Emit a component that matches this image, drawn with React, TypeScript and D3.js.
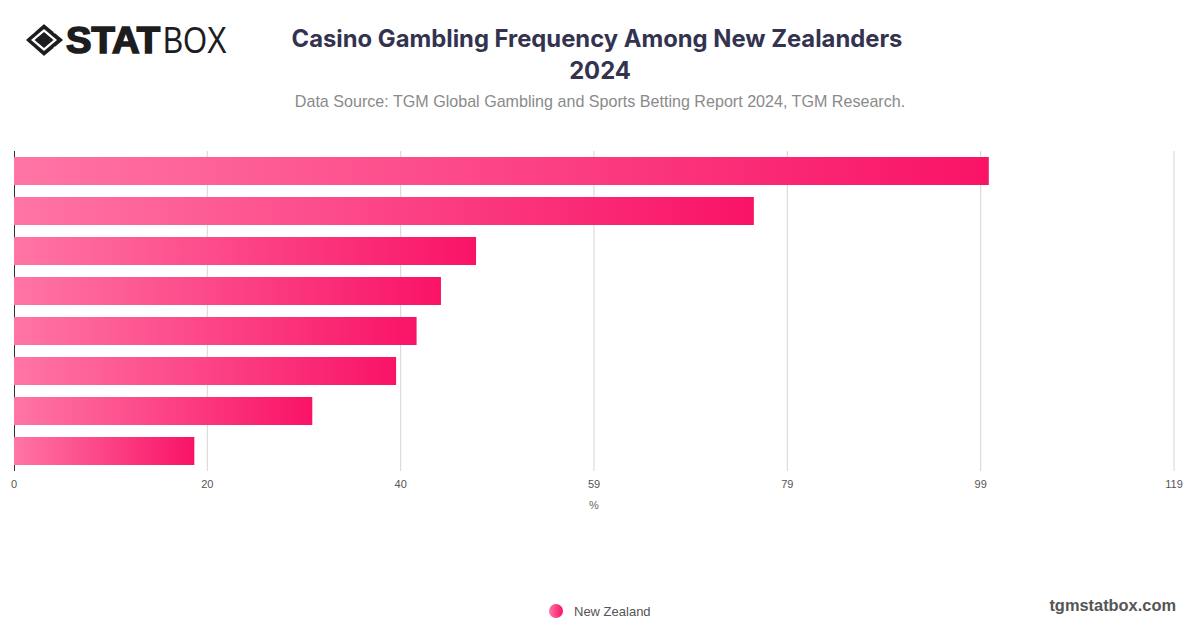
import React from 'react';
import * as d3 from 'd3';

const width = 1200;
const height = 628;

// the chart shows no category labels, bars are only told apart by rank
const barRanks = [1, 2, 3, 4, 5, 6, 7, 8];
const barValues = [100, 75.9, 47.4, 43.8, 41.3, 39.2, 30.6, 18.5];
const axisMax = 119;
const tickValues = [0, 19.83, 39.67, 59.5, 79.33, 99.17, 119];
const tickLabels = ['0', '20', '40', '59', '79', '99', '119'];
const seriesName = 'New Zealand';

const x = d3.scaleLinear().domain([0, axisMax]).range([14, 1174]);
const y = d3.scaleBand<number>()
  .domain(barRanks)
  .range([151, 471])
  .paddingInner(0.3)
  .paddingOuter(0.15);

const sans = '"Liberation Sans", Arial, sans-serif';

const Logo = () => (
  <g>
    <path d="M44 25 L62 40 L44 55 L27 40 Z" fill="#1d1d1f" stroke="#1d1d1f" strokeWidth="1.5" strokeLinejoin="round" />
    <path d="M44 29 L57 40 L44 51 L31 40 Z" fill="#fff" />
    <path d="M44 32 L53.5 40 L44 48 L34.5 40 Z" fill="#1d1d1f" />
    <path d="M34 33 L29 29 M54 33 L59 29 M34 47 L29 51 M54 47 L59 51" stroke="#fff" strokeWidth="1.6" />
    <text x={66} y={53} fontFamily={sans} fontWeight={700} fontSize={36} fill="#1d1d1f"
      stroke="#1d1d1f" strokeWidth={1.6} textLength={94} lengthAdjust="spacingAndGlyphs">STAT</text>
    <text x={163} y={53} fontFamily={sans} fontWeight={400} fontSize={36} fill="#1d1d1f"
      textLength={64} lengthAdjust="spacingAndGlyphs">BOX</text>
  </g>
);

export default function App() {
  return (
    <svg width={width} height={height} viewBox={`0 0 ${width} ${height}`}
      style={{ position: 'fixed', left: 0, top: 0, display: 'block', background: '#fff' }}>
      <defs>
        <linearGradient id="barFill" x1="0" x2="1" y1="0" y2="0">
          <stop offset="0%" stopColor="#ff75a5" />
          <stop offset="100%" stopColor="#f91367" />
        </linearGradient>
      </defs>

      <Logo />

      <text x={597} y={47} textAnchor="middle" fontFamily="Inter, sans-serif" fontWeight={700} fontSize={23.8} fill="#333350">
        Casino Gambling Frequency Among New Zealanders
      </text>
      <text x={600} y={79} textAnchor="middle" fontFamily="Inter, sans-serif" fontWeight={700} fontSize={23.8} fill="#333350">
        2024
      </text>
      <text x={600} y={107} textAnchor="middle" fontFamily={sans} fontSize={16.1} fill="#8a8a8a">
        Data Source: TGM Global Gambling and Sports Betting Report 2024, TGM Research.
      </text>

      {tickValues.map((t, i) => (
        <g key={i}>
          {i > 0 && <line x1={x(t)} x2={x(t)} y1={151} y2={471} stroke="#d6d6d6" strokeWidth={1} />}
          <text x={x(t)} y={488} textAnchor="middle" fontFamily={sans} fontSize={11} fill="#555">
            {tickLabels[i]}
          </text>
        </g>
      ))}
      <line x1={x(0) + 0.5} x2={x(0) + 0.5} y1={151} y2={471} stroke="#333" strokeWidth={1} />

      {barRanks.map((r, i) => (
        <rect key={r} x={x(0)} y={y(r)} width={x(barValues[i]) - x(0)} height={y.bandwidth()} fill="url(#barFill)" />
      ))}

      <text x={594} y={509} textAnchor="middle" fontFamily={sans} fontSize={11} fill="#666">%</text>

      <circle cx={556} cy={611} r={7} fill="url(#barFill)" />
      <text x={574} y={616} fontFamily={sans} fontSize={13} fill="#555">{seriesName}</text>
      <text x={1176} y={611} textAnchor="end" fontFamily={sans} fontWeight={700} fontSize={16.4} fill="#555">
        tgmstatbox.com
      </text>
    </svg>
  );
}
